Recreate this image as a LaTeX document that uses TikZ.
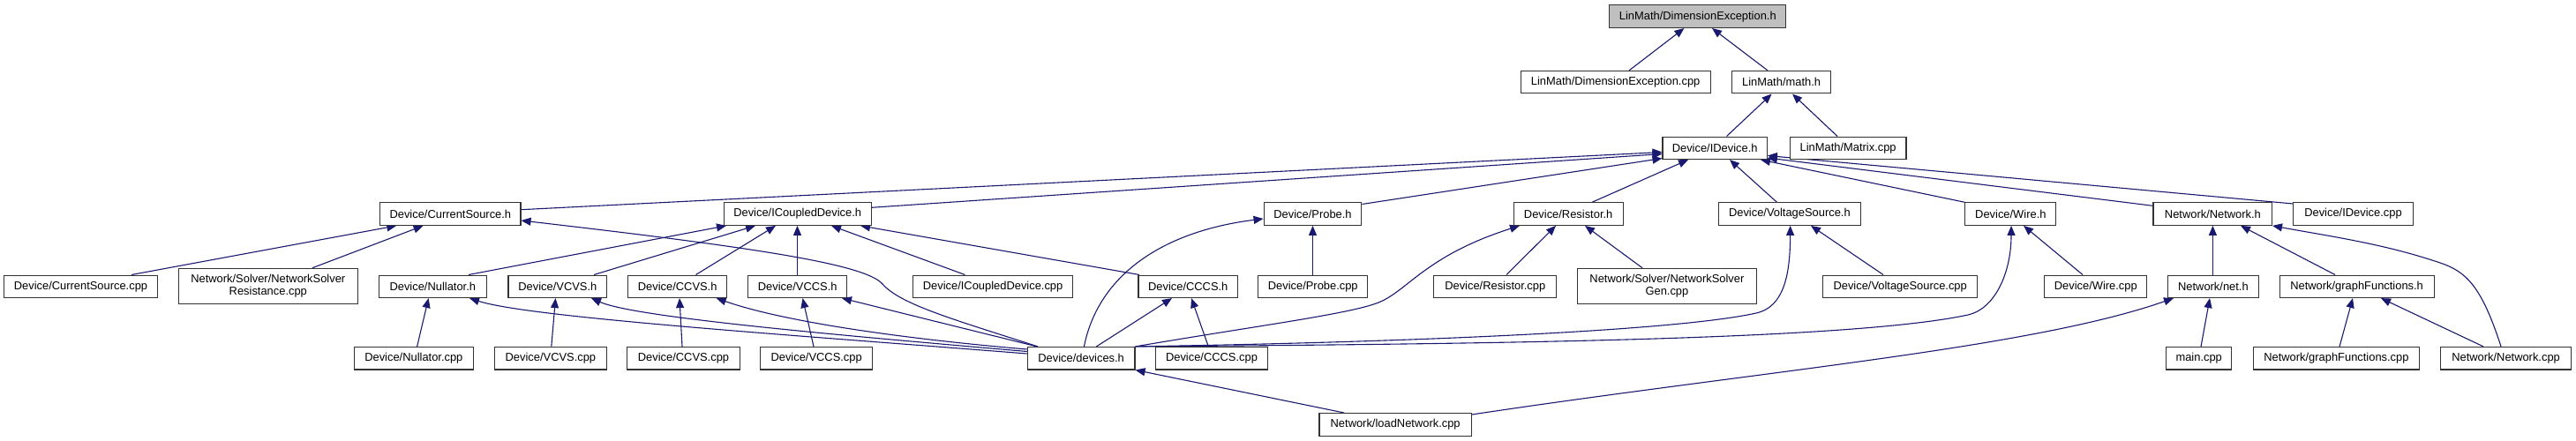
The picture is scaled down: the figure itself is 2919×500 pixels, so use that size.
\documentclass[tikz,border=0pt]{standalone}
\usepackage{fontspec}
\setmainfont{Liberation Sans}
\usetikzlibrary{arrows.meta}
\definecolor{edgeblue}{HTML}{191970}
\definecolor{rootgray}{HTML}{BFBFBF}
\pgfdeclarelayer{edgelayer}
\pgfsetlayers{edgelayer,main}
\begin{document}
\begin{tikzpicture}[x=1pt,y=-1pt,
  fbox/.style={draw=black!80, line width=1.1pt, fill=white, inner sep=0pt,
    minimum height=25.5pt, font=\fontsize{12.9}{14.7}\selectfont, align=center},
  tbox/.style={fbox, minimum height=40pt},
  edge/.style={draw=edgeblue, line width=1.1pt, -{Triangle[length=11pt,width=9pt]}},
]
\begin{pgfonlayer}{edgelayer}
\useasboundingbox[fill=white] (0,0) rectangle (2919,500);
\end{pgfonlayer}
% row 0
\node[fbox, fill=rootgray, minimum width=200.2pt] (DEh) at (1923.8,18.7) {LinMath/DimensionException.h};
% row 1
\node[fbox, minimum width=215.1pt] (DEcpp) at (1830.65,93.2) {LinMath/DimensionException.cpp};
\node[fbox, minimum width=112.3pt] (math) at (2018.55,93.2) {LinMath/math.h};
% row 2
\node[fbox, minimum width=118.3pt] (IDev) at (1943.15,167.8) {Device/IDevice.h};
\node[fbox, minimum width=131.7pt] (Matrix) at (2094.15,167.8) {LinMath/Matrix.cpp};
% row 3
\node[fbox, minimum width=159.3pt] (CSh) at (510.35,242.6) {Device/CurrentSource.h};
\node[fbox, minimum width=167.2pt] (ICDh) at (903.7,242.6) {Device/ICoupledDevice.h};
\node[fbox, minimum width=110.8pt] (Probe) at (1487.5,242.6) {Device/Probe.h};
\node[fbox, minimum width=123.9pt] (Resh) at (1777.15,242.6) {Device/Resistor.h};
\node[fbox, minimum width=161.5pt] (VSh) at (2027.85,242.6) {Device/VoltageSource.h};
\node[fbox, minimum width=102.9pt] (Wireh) at (2278.35,242.6) {Device/Wire.h};
\node[fbox, minimum width=134.8pt] (Neth) at (2507.4,242.6) {Network/Network.h};
\node[fbox, minimum width=135.3pt] (IDcpp) at (2666.45,242.6) {Device/IDevice.cpp};
% row 4
\node[fbox, minimum width=173.6pt] (CScpp) at (91.5,324.8) {Device/CurrentSource.cpp};
\node[tbox, minimum width=202.6pt] (NSR) at (303.8,324.3) {Network/Solver/NetworkSolver\\Resistance.cpp};
\node[fbox, minimum width=122pt] (Nullh) at (490.3,324.8) {Device/Nullator.h};
\node[fbox, minimum width=111.7pt] (VCVSh) at (631.85,324.8) {Device/VCVS.h};
\node[fbox, minimum width=112.2pt] (CCVSh) at (767.7,324.8) {Device/CCVS.h};
\node[fbox, minimum width=112.2pt] (VCCSh) at (903.7,324.8) {Device/VCCS.h};
\node[fbox, minimum width=181.6pt] (ICDcpp) at (1125.1,324.8) {Device/ICoupledDevice.cpp};
\node[fbox, minimum width=112.5pt] (CCCSh) at (1346.25,324.8) {Device/CCCS.h};
\node[fbox, minimum width=124.3pt] (Probecpp) at (1487.75,324.8) {Device/Probe.cpp};
\node[fbox, minimum width=138.7pt] (Rescpp) at (1694.25,324.8) {Device/Resistor.cpp};
\node[tbox, minimum width=203pt] (NSG) at (1888.9,324.3) {Network/Solver/NetworkSolver\\Gen.cpp};
\node[fbox, minimum width=174.7pt] (VScpp) at (2153.15,324.8) {Device/VoltageSource.cpp};
\node[fbox, minimum width=115.9pt] (Wirecpp) at (2374.75,324.8) {Device/Wire.cpp};
\node[fbox, minimum width=102.4pt] (neth) at (2507.9,324.8) {Network/net.h};
\node[fbox, minimum width=175pt] (gfh) at (2670.6,324.8) {Network/graphFunctions.h};
% row 5
\node[fbox, minimum width=135.1pt] (Nullcpp) at (468.85,406.2) {Device/Nullator.cpp};
\node[fbox, minimum width=126.6pt] (VCVScpp) at (623.9,406.2) {Device/VCVS.cpp};
\node[fbox, minimum width=127.6pt] (CCVScpp) at (774.5,406.2) {Device/CCVS.cpp};
\node[fbox, minimum width=127.1pt] (VCCScpp) at (925.15,406.2) {Device/VCCS.cpp};
\node[fbox, minimum width=121.7pt] (devh) at (1225.15,406.2) {Device/devices.h};
\node[fbox, minimum width=127.4pt] (CCCScpp) at (1373,406.2) {Device/CCCS.cpp};
\node[fbox, minimum width=74.2pt] (main) at (2491.7,406.2) {main.cpp};
\node[fbox, minimum width=188pt] (gfcpp) at (2647.4,406.2) {Network/graphFunctions.cpp};
\node[fbox, minimum width=148.3pt] (Netcpp) at (2839.55,406.2) {Network/Network.cpp};
% row 6
\node[fbox, minimum width=172.3pt] (load) at (1581.15,481.3) {Network/loadNetwork.cpp};

% edges: child -> parent, drawn behind the boxes
\begin{pgfonlayer}{edgelayer}
\draw[edge] (DEcpp.north -| 1846,0) -- (DEh.south -| 1908.4,0);
\draw[edge] (math.north -| 2003,0) -- (DEh.south -| 1940,0);
\draw[edge] (IDev.north -| 1956.5,0) -- (math.south -| 2007.6,0);
\draw[edge] (Matrix.north -| 2082,0) -- (math.south -| 2031,0);

\draw[edge] (CSh.east |- 0,237.7) -- (IDev.west |- 0,172.5);
\draw[edge] (ICDh.east |- 0,235.3) -- (IDev.west |- 0,174.5);
\draw[edge] (Probe.east |- 0,231.5) -- (IDev.west |- 0,179.5);
\draw[edge] (Resh.north -| 1804,0) -- (IDev.south -| 1913,0);
\draw[edge] (VSh.north -| 2013.5,0) -- (IDev.south -| 1960,0);
\draw[edge] (Wireh.north west) -- (IDev.south -| 1995,0);
\draw[edge] (Neth.west |- 0,233.3) -- (IDev.east |- 0,179);
\draw[edge] (IDcpp.west |- 0,231) -- (IDev.east |- 0,176.5);

\draw[edge] (CScpp.north -| 149,0) -- (CSh.south -| 449.3,0);
\draw[edge] (NSR.north -| 354,0) -- (CSh.south -| 479.6,0);
\draw[edge] (devh.north -| 1176,0) .. controls (1080,362) and (1020,345) .. (1000,322)
  .. controls (980,299) and (850,280) .. (CSh.east |- 0,250);

\draw[edge] (Nullh.north -| 531,0) -- (ICDh.south -| 823,0);
\draw[edge] (VCVSh.north -| 673,0) -- (ICDh.south -| 856,0);
\draw[edge] (CCVSh.north -| 788.5,0) -- (ICDh.south -| 879,0);
\draw[edge] (VCCSh.north -| 903.5,0) -- (ICDh.south -| 903.5,0);
\draw[edge] (ICDcpp.north -| 1093.4,0) -- (ICDh.south -| 942,0);
\draw[edge] (CCCSh.north -| 1291,0) -- (ICDh.south -| 975,0);

\draw[edge] (devh.north -| 1228.4,0) .. controls (1245,310) and (1320,262) .. (Probe.west |- 0,248);
\draw[edge] (Probecpp.north -| 1487.5,0) -- (Probe.south -| 1487.5,0);

\draw[edge] (devh.north east) .. controls (1420,370) and (1530,356) .. (1562,343)
  .. controls (1595,330) and (1615,290) .. (Resh.south -| 1722,0);
\draw[edge] (Rescpp.north -| 1707,0) -- (Resh.south -| 1763,0);
\draw[edge] (NSG.north -| 1861,0) -- (Resh.south -| 1796,0);

\draw[edge] (devh.north east) .. controls (1600,388) and (1900,375) .. (1990,355)
  .. controls (2022,348) and (2028.6,310) .. (VSh.south -| 2028.6,0);
\draw[edge] (VScpp.north -| 2134,0) -- (VSh.south -| 2052,0);

\draw[edge] (devh.north east) .. controls (1700,390) and (2100,385) .. (2230,357)
  .. controls (2260,350.5) and (2279,310) .. (Wireh.south -| 2279,0);
\draw[edge] (Wirecpp.north -| 2360,0) -- (Wireh.south -| 2293,0);

\draw[edge] (neth.north -| 2507.4,0) -- (Neth.south -| 2507.4,0);
\draw[edge] (gfh.north -| 2646,0) -- (Neth.south -| 2539,0);
\draw[edge] (Netcpp.north -| 2834,0) .. controls (2812,325) and (2795,308) .. (2765,298)
  .. controls (2700,276) and (2640,268) .. (Neth.south -| 2575,0);

\draw[edge] (main.north -| 2494,0) -- (neth.south -| 2504,0);
\draw[edge] (load.east |- 0,470) .. controls (2000,420) and (2300,395) .. (neth.south -| 2463,0);
\draw[edge] (gfcpp.north -| 2651,0) -- (gfh.south -| 2666,0);
\draw[edge] (Netcpp.north -| 2814,0) -- (gfh.south -| 2698,0);

\draw[edge] (Nullcpp.north -| 472.6,0) -- (Nullh.south -| 485.6,0);
\draw[edge] (VCVScpp.north -| 624.8,0) -- (VCVSh.south -| 629.5,0);
\draw[edge] (CCVScpp.north -| 773,0) -- (CCVSh.south -| 770,0);
\draw[edge] (VCCScpp.north -| 922,0) -- (VCCSh.south -| 909.5,0);

\draw[edge] (devh.west |- 0,401) .. controls (900,380) and (600,360) .. (Nullh.south -| 532,0);
\draw[edge] (devh.west |- 0,398.5) .. controls (950,380) and (720,360) .. (VCVSh.south -| 670,0);
\draw[edge] (devh.west |- 0,396) .. controls (1000,382) and (880,362) .. (CCVSh.south -| 811.7,0);
\draw[edge] (devh.north -| 1175,0) -- (VCCSh.south -| 954,0);
\draw[edge] (devh.north -| 1242.4,0) -- (CCCSh.south -| 1328,0);
\draw[edge] (CCCScpp.north -| 1369.3,0) -- (CCCSh.south -| 1350,0);
\draw[edge] (load.north -| 1523,0) -- (devh.south east);
\end{pgfonlayer}
\end{tikzpicture}
\end{document}
